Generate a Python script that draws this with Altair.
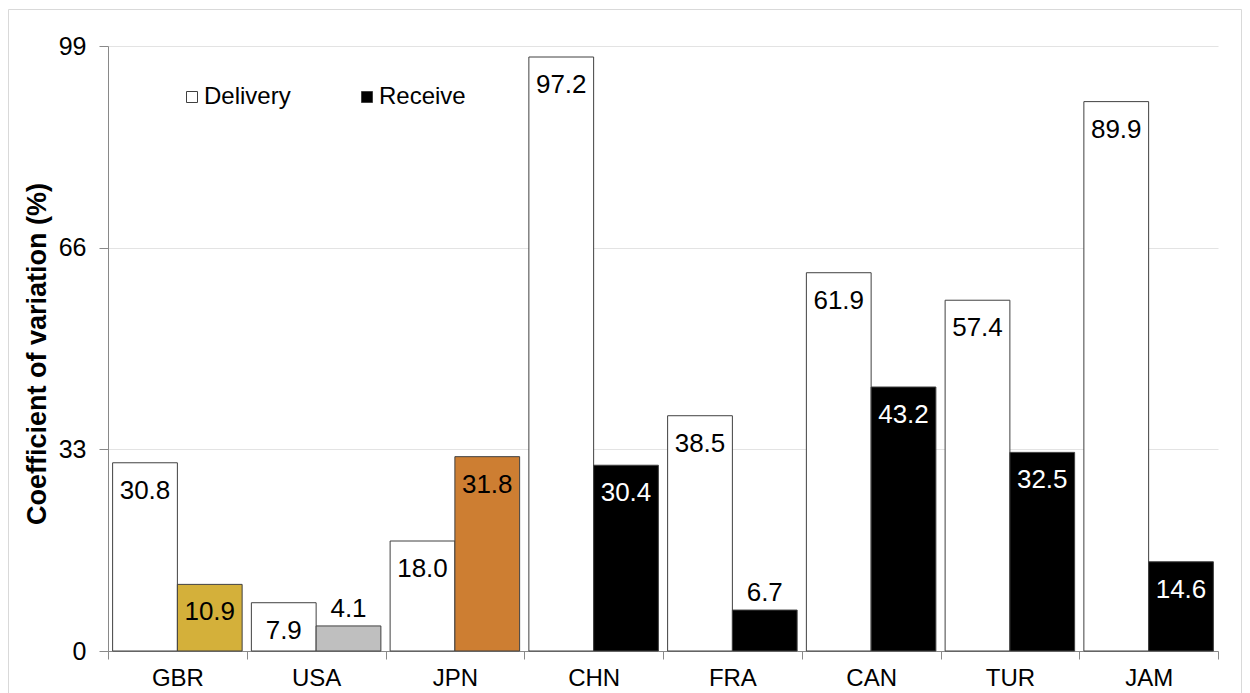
import altair as alt
import pandas as pd

countries = ["GBR", "USA", "JPN", "CHN", "FRA", "CAN", "TUR", "JAM"]
delivery = [30.8, 7.9, 18.0, 97.2, 38.5, 61.9, 57.4, 89.9]
receive = [10.9, 4.1, 31.8, 30.4, 6.7, 43.2, 32.5, 14.6]
series_names = ["Delivery", "Receive"]
y_ticks = [0, 33, 66, 99]

rows = []
for c, d, r in zip(countries, delivery, receive):
    rows.append({"country": c, "series": "Delivery", "value": d})
    rows.append({"country": c, "series": "Receive", "value": r})
df = pd.DataFrame(rows)

FONT = "Liberation Sans, Arial, sans-serif"
W, H = 1110, 605

x_enc = alt.X(
    "country:N",
    sort=countries,
    scale=alt.Scale(paddingInner=0, paddingOuter=0),
    axis=alt.Axis(
        title=None,
        tickBand="extent",
        grid=False,
        labelFontSize=24,
        labelColor="black",
        labelPadding=7,
        tickSize=8,
        tickColor="#898989",
        domainColor="#898989",
        labelAngle=0,
    ),
)
xoff = alt.XOffset(
    "series:N",
    sort=series_names,
    scale=alt.Scale(domain=series_names, paddingInner=0, paddingOuter=0.0714),
)
y_enc = alt.Y(
    "value:Q",
    scale=alt.Scale(domain=[0, 99], nice=False, zero=True),
    axis=alt.Axis(
        values=y_ticks,
        title="Coefficient of variation (%)",
        titleFontSize=27,
        titleFontWeight="bold",
        titleColor="black",
        titleX=-71,
        titleY=H / 2 + 5,
        titleAlign="center",
        titleBaseline="middle",
        labelFontSize=25,
        labelColor="black",
        labelPadding=13,
        tickSize=9,
        tickColor="#898989",
        domainColor="#898989",
        grid=True,
        gridColor="#E3E3E3",
        gridWidth=1,
    ),
)

bars = alt.Chart(df).mark_bar(stroke="#404040", strokeWidth=1).encode(
    x=x_enc,
    xOffset=xoff,
    y=y_enc,
    fill=alt.Fill(
        "series:N",
        scale=alt.Scale(domain=series_names, range=["white", "black"]),
        legend=alt.Legend(
            orient="none",
            legendX=72,
            legendY=39,
            direction="horizontal",
            title=None,
            symbolType="square",
            symbolSize=121,
            symbolStrokeColor="#404040",
            symbolStrokeWidth=1,
            labelFontSize=24,
            labelColor="black",
            labelOffset=0,
            columnPadding=64,
        ),
        condition=[
            {"test": "datum.series === 'Receive' && datum.country === 'GBR'", "value": "#D4B03A"},
            {"test": "datum.series === 'Receive' && datum.country === 'USA'", "value": "#BFBFBF"},
            {"test": "datum.series === 'Receive' && datum.country === 'JPN'", "value": "#CD7E32"},
        ],
    ),
)

text_color = alt.condition(
    "datum.series === 'Receive' && indexof(['GBR','USA','JPN'], datum.country) < 0",
    alt.value("white"),
    alt.value("black"),
)

labels_in = (
    alt.Chart(df)
    .transform_filter("datum.value >= 7")
    .mark_text(fontSize=26, baseline="middle", align="center", dy=28)
    .encode(x=x_enc, xOffset=xoff, y=y_enc, text=alt.Text("value:Q", format=".1f"), color=text_color)
)
labels_out = (
    alt.Chart(df)
    .transform_filter("datum.value < 7")
    .mark_text(fontSize=26, baseline="middle", align="center", dy=-17)
    .encode(x=x_enc, xOffset=xoff, y=y_enc, text=alt.Text("value:Q", format=".1f"), color=alt.value("black"))
)

border = (
    alt.Chart(pd.DataFrame({"a": [0]}))
    .mark_rect(fill="transparent", stroke="#D9D9D9", strokeWidth=1)
    .encode(x=alt.value(-99.5), x2=alt.value(1133.5), y=alt.value(-36.5), y2=alt.value(720))
)

chart = (
    alt.layer(border, bars, labels_in, labels_out)
    .properties(
        width=W,
        height=H,
        autosize=alt.AutoSizeParams(type="none"),
        padding={"left": 100, "top": 38, "right": 24, "bottom": 42},
    )
    .configure(font=FONT)
    .configure_view(strokeWidth=0)
)

chart.save("out.html", embed_options={"renderer": "svg", "actions": False})
